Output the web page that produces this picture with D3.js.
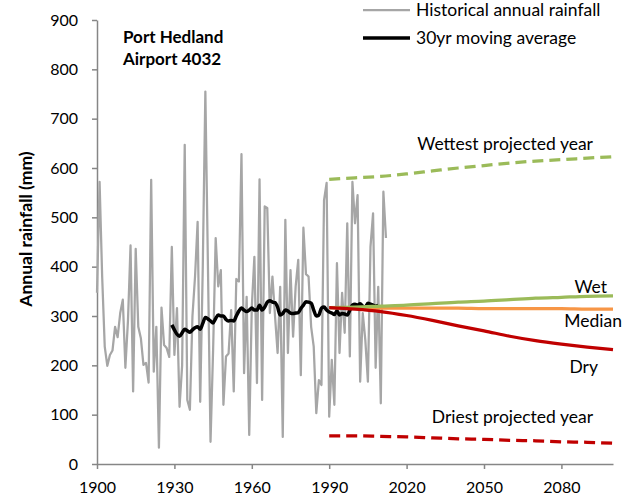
<!DOCTYPE html>
<html><head><meta charset="utf-8">
<script src="https://cdn.jsdelivr.net/npm/d3@7"></script>
<style>
body{margin:0;background:#fff;}
svg text{font-family:Lato,"Open Sans",sans-serif;fill:#000;}
</style></head>
<body>
<svg id="chart" width="635" height="504"></svg>
<script>
// ---- data ----
const histYears = d3.range(1900, 2013);
const histRain = [347,572,380,238,199,221,230,278,257,306,
  333,195,290,443,147,436,278,255,201,205,
  165,576,187,278,33,317,241,235,217,440,
  221,316,116,200,647,130,110,300,380,491,
  126,400,755,400,45,230,458,360,393,120,
  218,224,312,147,375,370,628,184,339,59,
  319,420,164,577,130,522,519,306,380,300,
  225,359,55,495,225,393,258,360,414,180,
  479,385,380,278,238,103,170,160,535,570,
  96,211,120,407,225,347,266,488,218,572,
  488,545,167,306,251,167,440,508,195,359,
  123,552,458];
const avgYears = d3.range(1929, 2010);
const avgRain = [282,272,263,259,266,273,270,267,272,276,
  278,273,285,297,294,290,286,295,302,300,
  300,293,290,291,290,300,310,316,312,309,
  312,316,312,312,322,312,318,328,331,328,
  327,318,302,305,312,310,306,305,306,307,
  315,322,329,328,326,312,300,302,316,318,
  312,308,306,303,310,302,305,304,302,312,
  322,324,322,325,320,318,326,324,322,320,322];
const projYears = [1990,2000,2010,2020,2030,2040,2050,2060,2070,2080,2090,2100];
const wettest = [577,580,583,588,594,600,605,610,614,617,620,623];
const wet     = [317,318,320,322,325,328,330,333,336,338,340,341];
const median  = [317,317,316,316,316,316,315,315,315,315,314,314];
const dry     = [317,314,309,301,291,280,270,259,250,243,237,232];
const driest  = [57,57,56,55,53,51,50,48,47,45,44,42];
const xTicks = [1900,1930,1960,1990,2020,2050,2080];
const yTicks = [0,100,200,300,400,500,600,700,800,900];

// ---- layout ----
const svg = d3.select("#chart");
const m = {l:97, r:22, t:20, b:40};
const W = 635, H = 504;
const x = d3.scaleLinear().domain([1900,2100]).range([m.l, W-m.r]);
const y = d3.scaleLinear().domain([0,900]).range([H-m.b, m.t]);
const axisColor = "#868686";

// axes
const yAx = svg.append("g").attr("transform",`translate(${m.l},0)`)
  .call(d3.axisLeft(y).tickValues(yTicks).tickSize(5).tickPadding(14).tickSizeOuter(0));
const xAx = svg.append("g").attr("transform",`translate(0,${H-m.b})`)
  .call(d3.axisBottom(x).tickValues(xTicks).tickFormat(d3.format("d")).tickSize(5).tickPadding(13).tickSizeOuter(0));
[yAx,xAx].forEach(g=>{
  g.selectAll("path,line").attr("stroke",axisColor).attr("stroke-width",1.5);
  g.selectAll("text").attr("font-size",16).attr("font-family","Lato,sans-serif").attr("fill","#000");
});

const line = (xs, ys, curve) => d3.line().x((d,i)=>x(xs[i])).y(d=>y(d)).curve(curve||d3.curveLinear)(ys);

svg.append("path").attr("d", line(histYears,histRain)).attr("fill","none")
  .attr("stroke","#a6a6a6").attr("stroke-width",2.25).attr("stroke-linejoin","round");
svg.append("path").attr("d", line(avgYears,avgRain, d3.curveMonotoneX)).attr("fill","none")
  .attr("stroke","#000").attr("stroke-width",3.5).attr("stroke-linejoin","round");

const proj = [
  {v:median, c:"#f79646", dash:null},
  {v:wet, c:"#9bbb59", dash:null},
  {v:dry, c:"#c00000", dash:null},
  {v:wettest, c:"#9bbb59", dash:"11,6"},
  {v:driest, c:"#c00000", dash:"11,6"}
];
proj.forEach(p=>{
  svg.append("path").attr("d", line(projYears,p.v,d3.curveMonotoneX)).attr("fill","none")
    .attr("stroke",p.c).attr("stroke-width",3.25).attr("stroke-dasharray",p.dash);
});

// labels
const lab = (t,xx,yy,anchor,opts={}) => svg.append("text").attr("x",xx).attr("y",yy)
  .attr("text-anchor",anchor||"start").attr("font-size",opts.size||17.5)
  .attr("font-weight",opts.bold?"bold":"normal").text(t);
lab("Wettest projected year",593,150,"end");
lab("Wet",607,293,"end");
lab("Median",622,327,"end");
lab("Dry",598,373,"end");
lab("Driest projected year",593,423,"end");
lab("Port Hedland",123,43,"start",{bold:true,size:17});
lab("Airport 4032",123,65,"start",{bold:true,size:17});

// legend
svg.append("line").attr("x1",363).attr("x2",410).attr("y1",10).attr("y2",10)
  .attr("stroke","#a6a6a6").attr("stroke-width",2.25);
lab("Historical annual rainfall",416,16,"start");
svg.append("line").attr("x1",363).attr("x2",410).attr("y1",38).attr("y2",38)
  .attr("stroke","#000").attr("stroke-width",3.5);
lab("30yr moving average",416,44,"start");

// y title
svg.append("text").attr("transform","translate(32,229) rotate(-90)")
  .attr("text-anchor","middle").attr("font-size",17.5).attr("font-weight","bold")
  .text("Annual rainfall (mm)");
</script>
</body></html>
